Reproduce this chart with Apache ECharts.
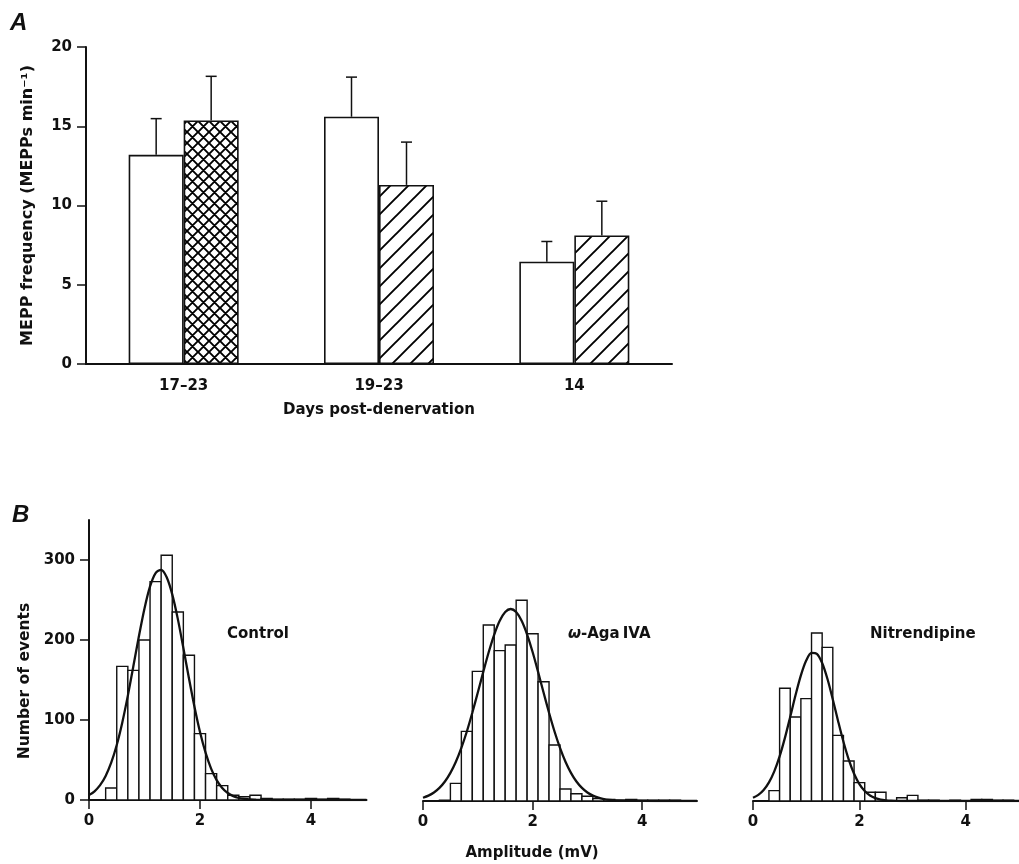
<!DOCTYPE html>
<html><head><meta charset="utf-8">
<script src="https://cdn.jsdelivr.net/npm/echarts@6/dist/echarts.min.js"></script>
<style>html,body{margin:0;padding:0;background:#fff}#c{width:1019px;height:864px}</style>
</head><body><div id="c"></div>
<script>
// ---------- Panel A data ----------
const groups = ['17–23', '19–23', '14'];
const controlMean = [13.2, 15.6, 6.45];
const controlSem = [2.28, 2.5, 1.28];
const treatMean = [15.37, 11.3, 8.11];
const treatSem = [2.78, 2.7, 2.16];
const freqTicks = [0, 5, 10, 15, 20];

// ---------- Panel B data ----------
const binWidth = 0.2;
const binStarts = [0.3, 0.5, 0.7, 0.9, 1.1, 1.3, 1.5, 1.7, 1.9, 2.1, 2.3, 2.5, 2.7, 2.9, 3.1, 3.3, 3.5, 3.7, 3.9, 4.1, 4.3, 4.5, 4.7];
const controlCounts = [15, 167, 162, 200, 273, 306, 235, 181, 83, 33, 18, 6, 4, 6, 2, 1, 1, 1, 2, 1, 2, 1, 0];
const agaCounts = [1, 22, 87, 162, 220, 188, 195, 251, 209, 149, 70, 15, 9, 6, 3, 2, 1, 2, 1, 1, 1, 1, 0];
const nitCounts = [13, 141, 105, 128, 210, 192, 82, 50, 23, 11, 11, 0, 4, 7, 1, 1, 0, 1, 0, 2, 2, 1, 1];

const curveX = [0, 0.1, 0.2, 0.3, 0.4, 0.5, 0.6, 0.7, 0.8, 0.9, 1.0, 1.1, 1.2, 1.3, 1.4, 1.5, 1.6, 1.7, 1.8, 1.9,
  2.0, 2.1, 2.2, 2.3, 2.4, 2.5, 2.6, 2.7, 2.8, 2.9, 3.0, 3.1, 3.2, 3.3, 3.4, 3.5, 4.0, 4.5, 5.0];
const controlFit = [6.1, 10.9, 18.5, 30.1, 46.6, 68.8, 97, 130.5, 167.5, 205, 239.5, 267, 283.7, 287.7, 278.4, 257, 226.4, 190.2, 152.4, 116.6,
  85, 59.2, 39.3, 24.9, 15.1, 8.7, 4.8, 2.5, 1.3, 0.6, 0.3, 0.1, 0.1, 0, 0, 0, 0, 0, 0];
const agaFit = [4.1, 6.7, 10.7, 16.4, 24.4, 35.2, 49.1, 66.4, 86.9, 110.3, 135.6, 161.4, 186.2, 208, 225.2, 236.2, 240, 236.2, 225.2, 208,
  186.2, 161.4, 135.6, 110.3, 86.9, 66.4, 49.1, 35.2, 24.4, 16.4, 10.7, 6.7, 4.1, 2.4, 1.4, 0.8, 0.1, 0, 0];
const nitFit = [4.1, 7.7, 13.8, 23.3, 37.1, 55.8, 78.9, 105.3, 132.4, 157, 175.6, 185.1, 184, 172.5, 152.5, 127, 99.8, 74, 51.7, 34,
  21.1, 12.4, 6.8, 3.6, 1.7, 0.8, 0.3, 0.1, 0, 0, 0, 0, 0, 0, 0, 0, 0, 0, 0];
const ampTicks = [0, 2, 4];
const countTicks = [0, 100, 200, 300];
const panelNames = ['Control', '{i|ω}-Aga\u2009IVA', 'Nitrendipine'];

// ---------- styling ----------
const FONT = 'DejaVu Sans';
const INK = '#111';
const BAR_W = 55, CAP = 5.5;

function makePattern(size, cross) {
  const c = document.createElement('canvas');
  c.width = size; c.height = size;
  const g = c.getContext('2d');
  g.fillStyle = '#fff'; g.fillRect(0, 0, size, size);
  g.strokeStyle = '#000'; g.lineWidth = 1.9;
  g.beginPath();
  g.moveTo(-2, size + 2); g.lineTo(size + 2, -2);
  g.moveTo(-2, 2); g.lineTo(2, -2);
  g.moveTo(size - 2, size + 2); g.lineTo(size + 2, size - 2);
  if (cross) {
    g.moveTo(-2, -2); g.lineTo(size + 2, size + 2);
    g.moveTo(size - 2, -2); g.lineTo(size + 2, 2);
    g.moveTo(-2, size - 2); g.lineTo(2, size + 2);
  }
  g.stroke();
  return c;
}
const crossPat = makePattern(11, true);
const diagPat = makePattern(18, false);

const chart = echarts.init(document.getElementById('c'), null, { renderer: 'canvas' });

const grids = [
  { left: 86, top: 47, width: 586, height: 317 },
  { left: 89, top: 520, width: 277.5, height: 280 },
  { left: 423, top: 521, width: 274, height: 280 },
  { left: 753, top: 521, width: 275, height: 280 }
];

const txt = (size) => ({ color: INK, fontFamily: FONT, fontSize: size, fontWeight: 'bold' });

const xAxes = [{
  gridIndex: 0, type: 'category', data: groups,
  axisTick: { show: false },
  axisLine: { lineStyle: { color: INK, width: 2 } },
  axisLabel: Object.assign({ margin: 15 }, txt(15)),
  name: 'Days post-denervation', nameLocation: 'middle', nameGap: 39,
  nameTextStyle: txt(15)
}];
const yAxes = [{
  gridIndex: 0, type: 'value', min: 0, max: 20, interval: 5,
  axisLine: { show: true, lineStyle: { color: INK, width: 2 } },
  axisTick: { show: true, length: 9, lineStyle: { color: INK, width: 1.5 } },
  axisLabel: Object.assign({ margin: 14, customValues: freqTicks }, txt(15)),
  splitLine: { show: false },
  name: 'MEPP frequency (MEPPs min⁻¹)', nameLocation: 'middle', nameGap: 50,
  nameTextStyle: txt(16)
}];
for (let k = 1; k <= 3; k++) {
  xAxes.push({
    gridIndex: k, type: 'value', min: 0, max: 5,
    axisLine: { lineStyle: { color: INK, width: 2 } },
    axisTick: { show: true, length: 9, customValues: ampTicks, lineStyle: { color: INK, width: 1.5 } },
    axisLabel: Object.assign({ margin: 14, customValues: ampTicks }, txt(15)),
    splitLine: { show: false }
  });
  yAxes.push({
    gridIndex: k, type: 'value', min: 0, max: 350, show: k === 1,
    axisLine: { show: true, lineStyle: { color: INK, width: 2 } },
    axisTick: { show: true, length: 9, customValues: countTicks, lineStyle: { color: INK, width: 1.5 } },
    axisLabel: Object.assign({ margin: 14, customValues: countTicks }, txt(15)),
    splitLine: { show: false }
  });
}

const series = [
  {
    type: 'bar', xAxisIndex: 0, yAxisIndex: 0, data: controlMean,
    barWidth: BAR_W, barGap: '0%',
    itemStyle: { color: '#fff', borderColor: INK, borderWidth: 1.6 }
  },
  {
    type: 'bar', xAxisIndex: 0, yAxisIndex: 0,
    data: treatMean.map((v, i) => ({
      value: v,
      itemStyle: { color: { image: i === 0 ? crossPat : diagPat, repeat: 'repeat' } }
    })),
    barWidth: BAR_W, barGap: '0%',
    itemStyle: { borderColor: INK, borderWidth: 1.6 }
  },
  {
    type: 'custom', xAxisIndex: 0, yAxisIndex: 0, z: 5,
    data: controlMean.map((m, i) => [i, m, controlSem[i], -1])
      .concat(treatMean.map((m, i) => [i, m, treatSem[i], 1])),
    encode: { x: 0, y: 1 },
    renderItem: (params, api) => {
      const i = api.value(0), m = api.value(1), e = api.value(2), side = api.value(3);
      const base = api.coord([i, m]);
      const top = api.coord([i, m + e]);
      const x = base[0] + side * BAR_W / 2;
      const st = { stroke: INK, lineWidth: 1.5 };
      return {
        type: 'group', children: [
          { type: 'line', shape: { x1: x, y1: base[1], x2: x, y2: top[1] }, style: st },
          { type: 'line', shape: { x1: x - CAP, y1: top[1], x2: x + CAP, y2: top[1] }, style: st }
        ]
      };
    }
  }
];

const histCounts = [controlCounts, agaCounts, nitCounts];
const fits = [controlFit, agaFit, nitFit];
for (let k = 0; k < 3; k++) {
  series.push({
    type: 'custom', xAxisIndex: k + 1, yAxisIndex: k + 1, z: 2,
    data: binStarts.map((s, j) => [s, s + binWidth, histCounts[k][j]]),
    encode: { x: [0, 1], y: 2 },
    renderItem: (params, api) => {
      const p0 = api.coord([api.value(0), 0]);
      const p1 = api.coord([api.value(1), api.value(2)]);
      return {
        type: 'rect',
        shape: { x: p0[0], y: p1[1], width: p1[0] - p0[0], height: p0[1] - p1[1] },
        style: { fill: '#fff', stroke: INK, lineWidth: 1.4 }
      };
    }
  });
  series.push({
    type: 'line', xAxisIndex: k + 1, yAxisIndex: k + 1, z: 4,
    data: curveX.map((x, j) => [x, fits[k][j]]),
    showSymbol: false, smooth: 0.3,
    lineStyle: { color: INK, width: 2.3 }
  });
}

const textEl = (x, y, text, font, align, valign, rot, rich) => ({
  type: 'text', x: x, y: y, rotation: rot || 0,
  style: { text: text, font: font, fill: INK, align: align, verticalAlign: valign, rich: rich }
});
const LBL = 'bold 15px "DejaVu Sans"';

chart.setOption({
  animation: false,
  backgroundColor: '#fff',
  grid: grids,
  xAxis: xAxes,
  yAxis: yAxes,
  series: series,
  graphic: [
    textEl(10, 11, 'A', 'italic bold 24px "Liberation Sans"', 'left', 'top'),
    textEl(12, 503, 'B', 'italic bold 24px "Liberation Sans"', 'left', 'top'),
    textEl(25, 681, 'Number of events', 'bold 15.5px "DejaVu Sans"', 'center', 'middle', Math.PI / 2),
    textEl(532, 853, 'Amplitude (mV)', LBL, 'center', 'middle'),
    textEl(227, 634, panelNames[0], LBL, 'left', 'middle'),
    textEl(568, 634, panelNames[1], LBL, 'left', 'middle', 0,
      { i: { fontStyle: 'italic', fontWeight: 'bold', fontFamily: FONT, fontSize: 15, fill: INK } }),
    textEl(870, 634, panelNames[2], LBL, 'left', 'middle')
  ]
});
</script></body></html>
